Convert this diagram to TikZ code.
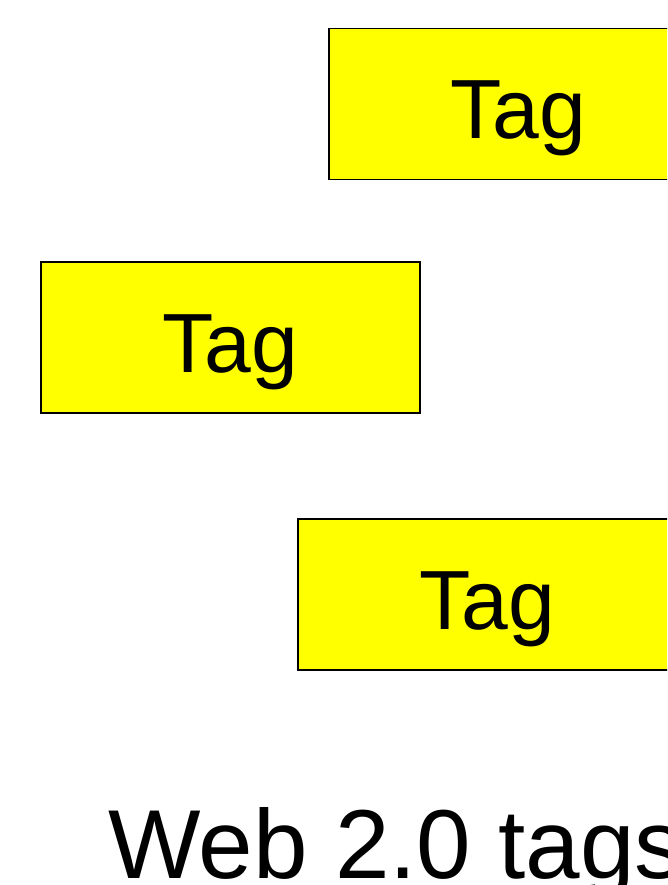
\documentclass[tikz,border=0pt]{standalone}
\usepackage{fontspec}
\setmainfont{Liberation Sans}
\begin{document}
\begin{tikzpicture}[x=1pt,y=-1pt,
  tagbox/.style={draw=black,line width=1.2pt,fill={rgb,255:red,255;green,255;blue,0},minimum width=379pt,minimum height=151pt,inner sep=0pt,text height=69pt,text depth=0pt,font=\fontsize{84}{90}\selectfont}]
\useasboundingbox (0,0) rectangle (667,885);
\clip (0,0) rectangle (667,885);
\node[tagbox] (t1) at (518.5,104) {Tag};
\node[tagbox] (t2) at (230.5,337.5) {Tag};
\node[tagbox] (t3) at (487.5,594.5) {Tag};
\node[anchor=base west,inner sep=0pt,font=\fontsize{98}{100}\selectfont] (title) at (108,878) {Web 2.0 tags};
\end{tikzpicture}
\end{document}
